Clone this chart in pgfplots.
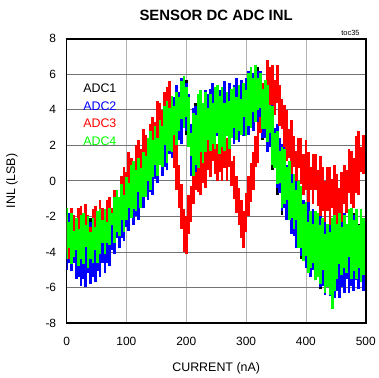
\documentclass[border=0pt]{standalone}
\usepackage{pgfplots}
\usepackage{pgfplotstable}
\pgfplotsset{compat=1.18}
\usepackage{fontspec}
\setmainfont{Liberation Sans}
\definecolor{adcgreen}{RGB}{0,255,0}
\definecolor{adcblue}{RGB}{0,0,255}
\definecolor{adcred}{RGB}{255,0,0}
% each row: current (nA), lowest and highest INL (LSB) seen around that current
\pgfplotstableread{
x lo hi
0 -4.6 -2.0
8 -5.1 -2.6
16 -4.8 -2.4
24 -5.2 -3.0
32 -5.2 -2.4
40 -5.4 -2.1
48 -4.6 -2.5
56 -4.8 -2.1
64 -4.6 -2.4
72 -4.4 -1.6
80 -3.4 -1.0
88 -3.3 -1.0
96 -3.0 -0.2
104 -2.8 -0.3
112 -1.8 0.5
120 -1.7 1.2
128 -1.3 1.2
136 -1.0 2.0
144 0.0 1.8
152 0.2 2.8
160 0.5 3.6
168 0.8 3.6
176 1.9 4.4
184 2.0 4.3
192 2.4 5.1
200 2.6 5.7
208 1.6 3.1
216 1.3 4.4
224 1.4 4.0
232 1.3 4.7
240 2.1 5.2
248 2.0 4.7
256 2.0 5.0
264 2.0 4.4
272 2.7 5.0
280 2.5 5.4
288 2.6 5.1
296 2.5 5.5
304 3.3 5.1
312 3.1 5.9
320 3.2 6.4
328 2.3 5.2
336 2.2 4.8
344 0.6 3.3
352 -0.8 2.7
360 -1.9 1.8
368 -1.9 0.7
376 -2.9 0.5
384 -3.6 -0.7
392 -4.4 -0.9
400 -4.4 -1.2
408 -5.1 -2.0
416 -5.6 -2.0
424 -6.1 -2.9
432 -5.6 -2.5
440 -6.0 -2.4
448 -6.0 -2.7
456 -6.1 -2.3
464 -5.5 -2.8
472 -5.7 -2.3
480 -5.7 -1.8
488 -5.8 -2.4
496 -5.0 -2.1
}\adcone
\pgfplotstableread{
x lo hi
0 -5.0 -2.1
4 -4.6 -1.8
8 -5.1 -2.7
12 -4.6 -2.1
16 -5.5 -2.5
20 -5.4 -2.3
24 -5.9 -2.0
28 -5.5 -2.8
32 -6.0 -2.2
36 -5.2 -2.5
40 -5.8 -2.3
44 -5.4 -2.0
48 -5.7 -2.7
52 -5.1 -2.1
56 -5.4 -2.3
60 -4.6 -2.1
64 -5.2 -1.6
68 -4.6 -2.3
72 -4.8 -1.5
76 -3.9 -1.7
80 -4.1 -1.3
84 -3.2 -0.7
88 -3.8 -1.3
92 -3.2 -0.4
96 -3.4 -0.5
100 -2.6 0.0
104 -2.8 0.5
108 -1.9 -0.1
112 -2.5 0.7
116 -2.0 0.6
120 -2.2 1.0
124 -1.4 1.6
128 -1.5 1.0
132 -0.6 1.9
136 -1.1 1.8
140 -0.6 2.3
144 -0.8 2.8
148 0.1 2.3
152 -0.1 3.1
156 0.9 3.1
160 0.3 3.5
164 0.8 4.0
168 0.6 3.5
172 1.5 4.3
176 1.3 4.3
180 2.2 4.7
184 1.7 5.4
188 2.3 5.0
192 2.1 5.8
196 3.0 5.4
200 2.8 5.5
204 2.3 4.9
208 0.3 3.2
212 0.7 4.1
216 0.4 4.2
220 1.1 4.7
224 0.9 5.1
228 1.8 4.4
232 1.1 5.1
236 1.6 4.9
240 1.4 5.2
244 2.1 5.5
248 1.8 4.7
252 2.5 5.4
256 1.8 5.1
260 2.2 5.3
264 1.8 5.6
268 2.5 4.8
272 2.1 5.5
276 2.9 5.2
280 2.1 5.4
284 2.5 5.8
288 2.2 5.1
292 2.8 5.7
296 2.5 5.5
300 3.3 5.8
304 2.6 6.2
308 3.0 5.5
312 2.8 6.1
316 3.5 5.9
320 3.2 6.2
324 3.6 6.2
328 2.4 5.0
332 2.4 5.3
336 1.6 4.6
340 1.9 4.5
344 0.9 4.3
348 1.0 3.0
352 -0.4 3.2
356 -0.7 2.4
360 -1.7 2.1
364 -1.5 2.0
368 -2.2 0.9
372 -1.9 1.1
376 -3.0 0.5
380 -3.1 0.3
384 -3.8 0.3
388 -3.5 -0.8
392 -4.2 -0.5
396 -3.8 -1.1
400 -4.9 -1.2
404 -4.8 -1.1
408 -5.4 -2.1
412 -5.0 -1.6
416 -5.6 -2.1
420 -5.1 -2.1
424 -6.0 -1.9
428 -5.9 -2.8
432 -6.4 -2.2
436 -6.0 -2.6
440 -6.5 -2.5
444 -5.8 -2.1
448 -6.6 -2.9
452 -6.2 -2.2
456 -6.6 -2.5
460 -6.0 -2.2
464 -6.3 -1.8
468 -5.5 -2.6
472 -6.3 -1.9
476 -5.9 -2.2
480 -6.2 -1.9
484 -5.6 -1.7
488 -6.1 -2.6
492 -5.4 -2.1
496 -6.2 -2.5
}\adctwo
\pgfplotstableread{
x lo hi
0 -4.0 -1.9
4 -4.4 -2.5
8 -3.5 -1.5
12 -4.0 -1.9
16 -3.0 -2.5
20 -3.6 -1.5
24 -3.9 -1.4
28 -3.3 -2.2
32 -3.7 -1.3
36 -2.8 -1.9
40 -3.3 -2.6
44 -2.3 -1.6
48 -3.0 -1.4
52 -3.3 -2.1
56 -2.8 -1.1
60 -3.2 -1.5
64 -2.3 -2.1
68 -2.7 -1.1
72 -1.7 -0.9
76 -2.2 -1.5
80 -2.5 -0.5
84 -1.8 -0.6
88 -2.0 -0.9
92 -1.0 0.3
96 -1.3 0.8
100 -0.2 0.5
104 -0.8 1.6
108 -1.0 1.3
112 -0.4 0.9
116 -0.7 2.0
120 0.2 2.3
124 -0.2 1.8
128 0.9 2.9
132 0.4 2.6
136 0.2 2.1
140 0.9 3.2
144 0.7 3.6
148 1.8 3.3
152 1.4 4.5
156 2.6 4.4
160 2.2 4.0
164 2.0 5.0
168 2.8 5.3
172 2.5 5.6
176 2.3 4.7
180 0.7 3.3
184 -0.5 2.0
188 -1.5 0.9
192 -2.7 -0.2
196 -4.0 -1.6
200 -4.1 -2.0
204 -3.0 -0.8
208 -2.3 -0.3
212 -1.3 0.6
216 -0.5 0.5
220 -0.6 1.2
224 -0.8 1.8
228 -0.1 1.4
232 -0.4 2.5
236 0.6 2.3
240 0.2 1.8
244 1.1 2.7
248 0.4 2.8
252 0.0 2.1
256 0.5 3.0
260 0.0 2.5
264 0.7 1.7
268 0.0 2.4
272 0.8 2.4
276 -0.3 1.1
280 -1.0 1.4
284 -1.8 0.3
288 -2.5 -0.4
292 -3.2 -1.1
296 -3.8 -1.7
300 -2.9 -0.7
304 -2.0 0.3
308 -1.2 1.0
312 -0.5 1.6
316 0.8 2.5
320 1.0 3.3
324 2.7 3.6
328 3.0 5.5
332 4.5 5.7
336 4.4 6.8
340 3.9 6.4
344 4.3 6.5
348 3.7 5.7
352 4.4 6.5
356 3.1 5.4
360 2.9 4.6
364 1.9 4.3
368 1.1 4.0
372 1.3 2.9
376 0.4 3.4
380 0.8 2.5
384 0.0 1.7
388 0.7 2.4
392 -0.2 2.4
396 -0.8 1.5
400 -0.5 2.3
404 -1.2 1.6
408 -0.5 0.8
412 -1.3 1.5
416 -0.5 1.5
420 -1.4 0.6
424 -2.0 1.4
428 -1.7 0.8
432 -2.3 0.0
436 -1.7 0.8
440 -2.5 0.8
444 -1.5 0.1
448 -2.1 0.9
452 -2.5 0.4
456 -1.9 -0.4
460 -2.3 0.5
464 -1.3 0.9
468 -1.8 0.6
472 -0.7 1.8
476 -1.3 1.7
480 -1.5 1.3
484 -0.7 2.5
488 -0.8 2.8
492 0.5 1.9
496 0.4 2.6
}\adcthree
\pgfplotstableread{
x lo hi
0 -4.4 -1.5
4 -3.8 -2.3
8 -4.7 -1.8
12 -4.3 -2.8
16 -3.9 -2.1
20 -4.8 -2.7
24 -4.4 -1.9
28 -4.7 -1.8
32 -3.7 -2.5
36 -4.9 -2.0
40 -4.4 -2.9
44 -4.6 -2.1
48 -3.9 -2.6
52 -4.6 -1.7
56 -4.1 -1.6
60 -3.5 -2.2
64 -4.1 -1.6
68 -3.5 -2.3
72 -3.6 -1.5
76 -2.5 -1.8
80 -3.5 -0.9
84 -2.9 -0.5
88 -3.1 -0.9
92 -2.2 -0.2
96 -2.9 -0.8
100 -2.2 0.2
104 -1.5 -0.1
108 -2.1 0.9
112 -1.6 1.1
116 -1.7 0.6
120 -0.6 1.3
124 -1.5 0.7
128 -0.9 1.6
132 -0.9 1.4
136 0.0 2.4
140 -0.5 2.8
144 0.2 2.3
148 0.9 3.1
152 0.3 2.4
156 0.9 3.4
160 0.8 3.1
164 2.0 4.2
168 1.0 4.5
172 1.7 4.1
176 1.6 4.8
180 2.6 4.2
184 2.0 5.0
188 2.8 4.7
192 3.5 5.6
196 3.0 5.9
200 3.6 5.3
204 1.9 4.7
208 1.4 2.7
212 0.3 3.8
216 0.9 3.7
220 0.7 4.9
224 1.6 5.1
228 1.0 4.4
232 1.6 5.0
236 2.3 4.1
240 1.7 4.9
244 2.1 4.4
248 1.8 5.3
252 2.7 5.4
256 1.5 4.8
260 1.9 5.3
264 1.7 4.4
268 2.5 5.0
272 1.8 4.5
276 2.4 5.2
280 3.0 5.3
284 2.3 4.7
288 2.8 5.4
292 2.6 4.6
296 3.6 5.5
300 2.5 5.1
304 3.1 6.1
308 3.0 6.4
312 3.9 5.8
316 3.3 6.5
320 4.0 5.8
324 4.1 6.1
328 2.9 5.2
332 2.9 5.7
336 2.2 5.4
340 2.7 4.3
344 0.9 4.2
348 0.7 2.7
352 -0.2 2.8
356 -0.1 1.7
360 -1.5 1.9
364 -1.3 1.8
368 -1.1 0.8
372 -2.2 1.1
376 -2.1 -0.1
380 -2.7 0.4
384 -2.2 -0.5
388 -3.8 0.0
392 -3.8 -0.3
396 -4.5 -1.3
400 -4.2 -1.2
404 -5.2 -2.3
408 -4.9 -1.7
412 -4.6 -2.4
416 -5.6 -1.7
420 -5.4 -1.8
424 -5.8 -2.5
428 -5.0 -2.1
432 -6.3 -3.0
436 -6.0 -2.4
440 -6.4 -2.9
444 -7.2 -2.1
448 -6.2 -1.9
452 -5.5 -2.4
456 -4.7 -1.8
460 -5.3 -2.6
464 -4.9 -1.9
468 -5.2 -2.4
472 -4.3 -1.6
476 -5.5 -1.5
480 -5.1 -2.2
484 -5.5 -1.6
488 -4.9 -2.5
492 -5.7 -1.6
496 -5.3 -2.1
}\adcfour
\pgfplotsset{
  noise/.style={draw=none, mark=none, forget plot,
    error bars/.cd, y dir=plus, y explicit, error mark=none,
    error bar style={draw=#1, line width=2.7pt, line cap=butt}},
}
\begin{document}
\begin{tikzpicture}
\begin{axis}[
  name=ax,
  scale only axis,
  width=301pt, height=286pt,
  xmin=0, xmax=500, ymin=-8, ymax=8,
  xtick={0,100,...,500}, ytick={-8,-6,...,8},
  major tick length=0pt,
  /pgf/number format/assume math mode=true,
  tick label style={font=\fontsize{12}{14}\selectfont},
  yticklabel style={xshift=-7pt},
  xticklabel style={yshift=-11pt},
  grid=major,
  x grid style={color=black!30, line width=0.8pt},
  y grid style={color=black!55, line width=0.8pt},
  axis line style={line width=1.6pt},
  xlabel={CURRENT (nA)}, ylabel={INL (LSB)},
  xlabel style={at={(axis description cs:0.5,-0.158)}, anchor=center, font=\fontsize{12.5}{14}\selectfont},
  ylabel style={at={(axis description cs:-0.183,0.5)}, anchor=center, font=\fontsize{12.5}{14}\selectfont},
  title={SENSOR DC ADC INL},
  title style={at={(axis description cs:0.5,1.062)}, anchor=center, font=\fontsize{15}{18}\selectfont\bfseries},
  clip=true,
]
\addplot[noise=black] table[x=x, y=lo, y error plus expr=\thisrow{hi}-\thisrow{lo}] {\adcone};
\addplot[noise=adcblue] table[x=x, y=lo, y error plus expr=\thisrow{hi}-\thisrow{lo}] {\adctwo};
\addplot[noise=adcred] table[x=x, y=lo, y error plus expr=\thisrow{hi}-\thisrow{lo}] {\adcthree};
\addplot[noise=adcgreen] table[x=x, y=lo, y error plus expr=\thisrow{hi}-\thisrow{lo}] {\adcfour};
\node[anchor=west, text=black, font=\fontsize{12.5}{14}\selectfont] at (axis cs:22,5.2) {ADC1};
\node[anchor=west, text=adcblue, font=\fontsize{12.5}{14}\selectfont] at (axis cs:22,4.2) {ADC2};
\node[anchor=west, text=adcred, font=\fontsize{12.5}{14}\selectfont] at (axis cs:22,3.22) {ADC3};
\node[anchor=west, text=adcgreen, font=\fontsize{12.5}{14}\selectfont] at (axis cs:22,2.24) {ADC4};
\end{axis}
\node[anchor=south east, font=\fontsize{7.5}{8}\selectfont, inner sep=0pt] at ([xshift=-6pt,yshift=3pt]ax.north east) {toc35};
\path[use as bounding box] (-67pt,-54pt) rectangle (309pt,325pt);
\end{tikzpicture}
\end{document}
